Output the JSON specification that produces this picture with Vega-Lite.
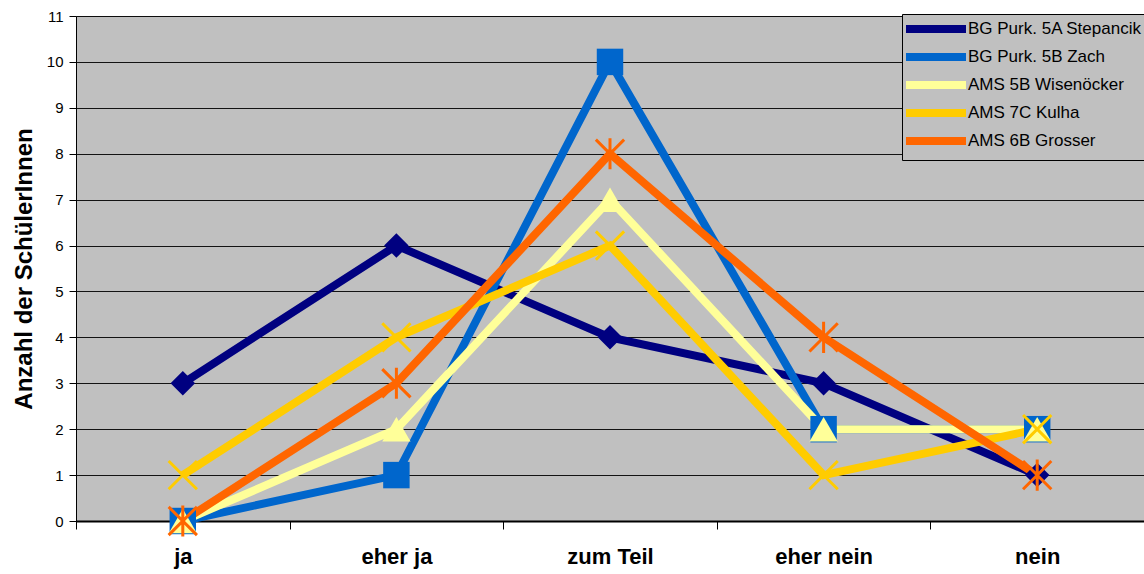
{
  "$schema": "https://vega.github.io/schema/vega-lite/v6.json",
  "autosize": "none",
  "width": 1068,
  "height": 505,
  "padding": {"left": 76, "top": 16, "right": 0, "bottom": 53},
  "background": "white",
  "config": {
    "font": "Liberation Sans",
    "view": {"fill": "#C0C0C0", "stroke": "#808080", "strokeWidth": 1}
  },
  "data": {
    "values": [
      {"series": "BG Purk. 5A Stepancik", "cat": "ja", "n": 3},
      {"series": "BG Purk. 5A Stepancik", "cat": "eher ja", "n": 6},
      {"series": "BG Purk. 5A Stepancik", "cat": "zum Teil", "n": 4},
      {"series": "BG Purk. 5A Stepancik", "cat": "eher nein", "n": 3},
      {"series": "BG Purk. 5A Stepancik", "cat": "nein", "n": 1},
      {"series": "BG Purk. 5B Zach", "cat": "ja", "n": 0},
      {"series": "BG Purk. 5B Zach", "cat": "eher ja", "n": 1},
      {"series": "BG Purk. 5B Zach", "cat": "zum Teil", "n": 10},
      {"series": "BG Purk. 5B Zach", "cat": "eher nein", "n": 2},
      {"series": "BG Purk. 5B Zach", "cat": "nein", "n": 2},
      {"series": "AMS 5B Wisenöcker", "cat": "ja", "n": 0},
      {"series": "AMS 5B Wisenöcker", "cat": "eher ja", "n": 2},
      {"series": "AMS 5B Wisenöcker", "cat": "zum Teil", "n": 7},
      {"series": "AMS 5B Wisenöcker", "cat": "eher nein", "n": 2},
      {"series": "AMS 5B Wisenöcker", "cat": "nein", "n": 2},
      {"series": "AMS 7C Kulha", "cat": "ja", "n": 1},
      {"series": "AMS 7C Kulha", "cat": "eher ja", "n": 4},
      {"series": "AMS 7C Kulha", "cat": "zum Teil", "n": 6},
      {"series": "AMS 7C Kulha", "cat": "eher nein", "n": 1},
      {"series": "AMS 7C Kulha", "cat": "nein", "n": 2},
      {"series": "AMS 6B Grosser", "cat": "ja", "n": 0},
      {"series": "AMS 6B Grosser", "cat": "eher ja", "n": 3},
      {"series": "AMS 6B Grosser", "cat": "zum Teil", "n": 8},
      {"series": "AMS 6B Grosser", "cat": "eher nein", "n": 4},
      {"series": "AMS 6B Grosser", "cat": "nein", "n": 1}
    ]
  },
  "encoding": {
    "x": {
      "field": "cat", "type": "nominal", "sort": null, "bandPosition": 0.5,
      "scale": {"type": "band", "domain": ["ja", "eher ja", "zum Teil", "eher nein", "nein"], "paddingInner": 0, "paddingOuter": 0},
      "axis": {
        "title": null, "labelAngle": 0, "tickBand": "extent", "grid": false,
        "domainColor": "#000000", "domainWidth": 2, "tickColor": "#000000", "tickSize": 8,
        "labelFont": "Liberation Sans", "labelFontWeight": "bold", "labelFontSize": 22, "labelColor": "#000000",
        "labelPadding": 17
      }
    },
    "y": {
      "field": "n", "type": "quantitative",
      "scale": {"domain": [0, 11], "nice": false},
      "axis": {
        "title": "Anzahl der SchülerInnen", "values": [0,1,2,3,4,5,6,7,8,9,10,11],
        "grid": true, "gridColor": "#000000", "gridOpacity": 0.9, "gridWidth": 1,
        "domainColor": "#000000", "tickColor": "#000000", "tickSize": 7,
        "labelFont": "Liberation Sans", "labelFontSize": 15, "labelColor": "#000000", "labelPadding": 6,
        "titleFont": "Liberation Sans", "titleFontSize": 24, "titleFontWeight": "bold", "titleColor": "#000000",
        "titlePadding": 10
      }
    },
    "color": {
      "field": "series", "type": "nominal",
      "scale": {
        "domain": ["BG Purk. 5A Stepancik", "BG Purk. 5B Zach", "AMS 5B Wisenöcker", "AMS 7C Kulha", "AMS 6B Grosser"],
        "range": ["#000080", "#0066CC", "#FFFF99", "#FFCC00", "#FF6600"]
      },
      "legend": {
        "title": null, "orient": "none", "legendX": 826, "legendY": -2,
        "fillColor": "#C0C0C0", "strokeColor": "#000000", "padding": 3,
        "symbolType": "M-3.75,0L3.75,0", "symbolSize": 256, "symbolStrokeWidth": 8, "symbolOpacity": 1,
        "symbolOffset": 19,
        "labelFont": "Liberation Sans", "labelFontSize": 17, "labelColor": "#000000", "labelOffset": 20,
        "labelLimit": 300, "rowPadding": -4
      }
    }
  },
  "layer": [
    {
      "mark": {"type": "line", "strokeWidth": 8, "strokeCap": "butt", "strokeJoin": "miter"},
      "encoding": {"detail": {"field": "series"}}
    },
    {
      "transform": [{"filter": {"field": "series", "oneOf": ["BG Purk. 5A Stepancik", "BG Purk. 5B Zach", "AMS 5B Wisenöcker"]}}],
      "mark": {"type": "point", "filled": true, "opacity": 1, "strokeWidth": 0},
      "encoding": {
        "shape": {"field": "series", "type": "nominal", "legend": null,
          "scale": {"domain": ["BG Purk. 5A Stepancik", "BG Purk. 5B Zach", "AMS 5B Wisenöcker"], "range": ["diamond", "square", "triangle-up"]}},
        "size": {"field": "series", "type": "nominal", "legend": null,
          "scale": {"domain": ["BG Purk. 5A Stepancik", "BG Purk. 5B Zach", "AMS 5B Wisenöcker"], "range": [600, 800, 700]}}
      }
    },
    {
      "transform": [{"filter": {"field": "series", "oneOf": ["AMS 7C Kulha", "AMS 6B Grosser"]}}],
      "mark": {"type": "point", "filled": false, "opacity": 1, "strokeWidth": 3, "size": 800},
      "encoding": {
        "shape": {"field": "series", "type": "nominal", "legend": null,
          "scale": {"domain": ["AMS 7C Kulha", "AMS 6B Grosser"], "range": ["M-1,-1L1,1M-1,1L1,-1", "M-1,-1L1,1M-1,1L1,-1M0,-1.1L0,1.1"]}}
      }
    }
  ],
  "resolve": {"scale": {"shape": "independent", "size": "independent"}}
}
